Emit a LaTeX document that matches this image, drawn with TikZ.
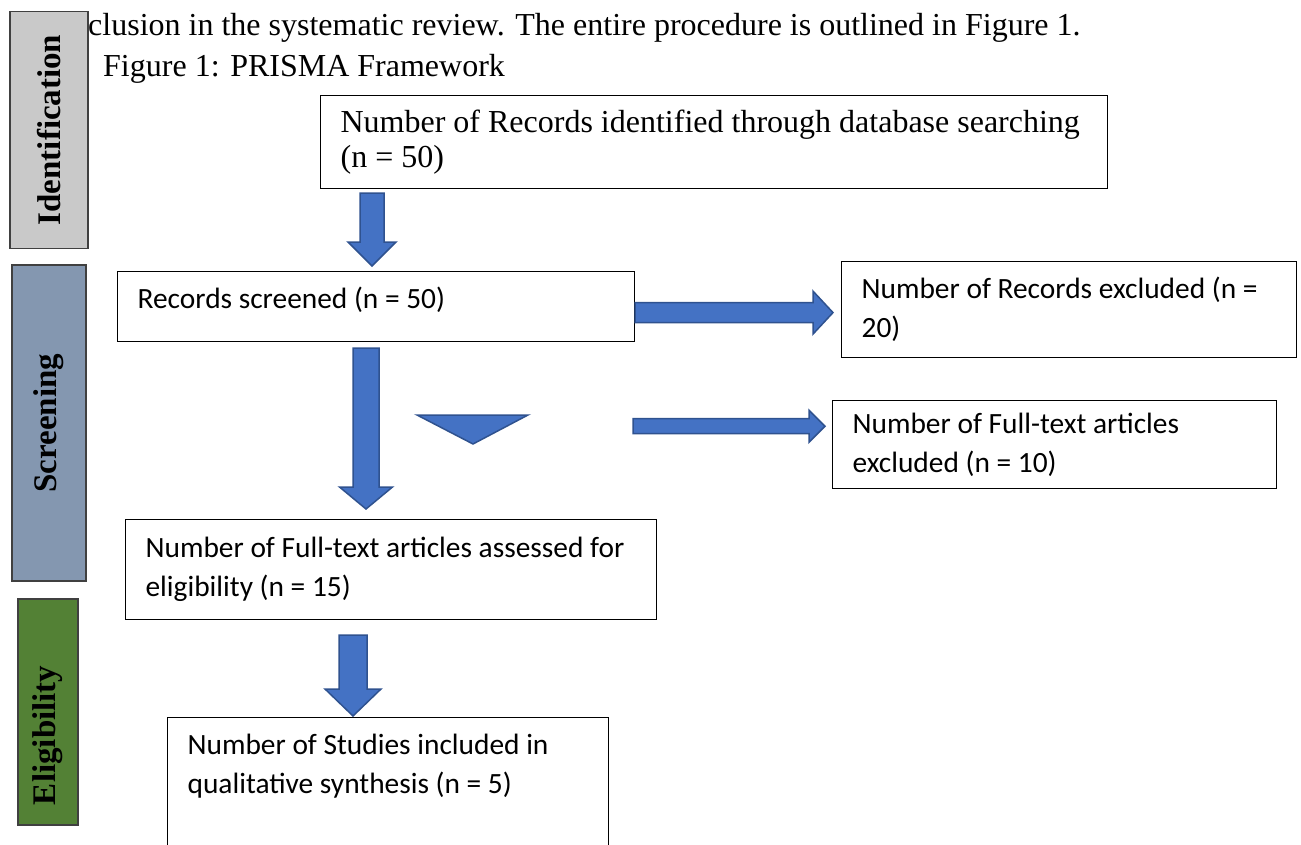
\documentclass[tikz,border=0pt]{standalone}
\usepackage{fontspec}
\setmainfont{Liberation Serif}
\newfontfamily\calibri{Carlito}
\usetikzlibrary{calc,positioning}
\definecolor{arrowblue}{HTML}{4472C4}
\definecolor{arrowedge}{HTML}{2F528F}
\definecolor{idgray}{HTML}{C9C9C9}
\definecolor{scrblue}{HTML}{8497B0}
\definecolor{eliggreen}{HTML}{538135}

\newcommand{\fatdown}[5]{%
  \path[blockarrow] let \p1=(#1), \p2=(#2) in
    (\x1-#3,\y1) -- (\x1+#3,\y1) -- (\x1+#3,\y2+#5) -- (\x1+#4,\y2+#5)
    -- (\x1,\y2) -- (\x1-#4,\y2+#5) -- (\x1-#3,\y2+#5) -- cycle;}
\newcommand{\fatright}[5]{%
  \path[blockarrow] let \p1=(#1), \p2=(#2) in
    (\x1,\y1+#3) -- (\x2-#5,\y1+#3) -- (\x2-#5,\y1+#4) -- (\x2,\y1)
    -- (\x2-#5,\y1-#4) -- (\x2-#5,\y1-#3) -- (\x1,\y1-#3) -- cycle;}

\begin{document}
\begin{tikzpicture}[x=1pt,y=-1pt,
  every node/.style={inner sep=0pt},
  box/.style={draw,line width=1.2pt,anchor=north west,align=flush left,inner xsep=20pt,inner ysep=9pt,font=\calibri\fontsize{29.4}{39}\selectfont},
  side/.style={draw=black!75,line width=1.5pt,rotate=90,font=\bfseries\fontsize{33}{36}\selectfont},
  blockarrow/.style={fill=arrowblue,draw=arrowedge,line width=1.5pt,line join=miter}]
	\clip (0,0) rectangle (1301,845);
	\useasboundingbox (0,0) rectangle (1301,845);

	\node (intro) at (88,36) [anchor=base west,font=\fontsize{32}{35}\selectfont] {clusion in the systematic review. The entire procedure is outlined in Figure 1.};
	\node (caption) at (103,77) [anchor=base west,font=\fontsize{32}{35}\selectfont] {Figure 1: PRISMA Framework};

	\node (identlbl) at (49,130) [side,fill=idgray,minimum width=237pt,minimum height=78pt] {Identification};
	\node (screenlbl) at (49,423) [side,fill=scrblue,minimum width=316pt,minimum height=74pt] {Screening};
	\node (eliglbl) at (48,712) [side,fill=eliggreen,minimum width=226pt,minimum height=60pt,inner xsep=20pt,text width=186pt,align=flush left] {Eligibility};

	\node (idrec) at (320,95) [box,minimum width=787pt,minimum height=93pt,text width=747pt,font=\rmfamily\fontsize{32}{35}\selectfont] {Number of Records identified through database searching\\(n = 50)};
	\node (screened) at (117,271) [box,minimum width=517pt,minimum height=70pt,text width=477pt] {Records screened (n = 50)\vphantom{p}\\[-22pt]~};
	\node (recexcl) at (841,261) [box,minimum width=455pt,minimum height=96pt,text width=415pt] {Number of Records excluded (n =\\20)};
	\node (ftexcl) at (832,400) [box,minimum width=444pt,minimum height=88pt,text width=404pt] {Number of Full-text articles\\excluded (n = 10)};
	\node (ftassess) at (125,519) [box,minimum width=531pt,minimum height=100pt,text width=491pt] {Number of Full-text articles assessed for\\eligibility (n = 15)};
	\node (included) at (167,717) [box,minimum width=441pt,inner ysep=16pt,text width=401pt] {Number of Studies included in\\qualitative synthesis (n = 5)\\~\\~};

	\fatdown{$(idrec.south west)+(52,4)$}{$(screened.north west)+(255,-5)$}{12}{24}{24}
	\fatright{$(screened.east)+(0,6)$}{$(recexcl.west)+(-8,0)$}{10}{21.5}{20}
	\fatdown{$(screened.south west)+(249,6)$}{$(ftassess.north west)+(241,-10)$}{13}{26.5}{22}
	\path[blockarrow] (417,415) -- (528,415) -- (473,444) -- cycle;
	\fatright{$(screened.south east)+(-2,84)$}{$(ftexcl.west)+(-7,0)$}{7.5}{16}{16}
	\fatdown{$(ftassess.south west)+(228,15)$}{$(included.north)+(0,-1)$}{14}{28}{27}
\end{tikzpicture}
\end{document}
